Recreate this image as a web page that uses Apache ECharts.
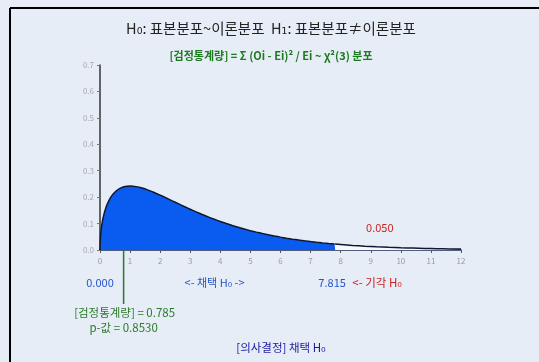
<!DOCTYPE html>
<html><head><meta charset="utf-8">
<script src="https://cdn.jsdelivr.net/npm/echarts@6/dist/echarts.min.js"></script>
<style>html,body{margin:0;padding:0;background:#e6edf7;}#c{width:539px;height:362px;}</style>
</head><body><div id="c"></div>
<script>
// chi-square(3) density
const acceptX = [0,0.02,0.05,0.1,0.2,0.3,0.4,0.5,0.6,0.7,0.8,0.9,1.0,1.2,1.4,1.6,1.8,2.0,2.2,2.4,2.6,2.8,3.0,3.2,3.4,3.6,3.8,4.0,4.2,4.4,4.6,4.8,5.0,5.2,5.4,5.6,5.8,6.0,6.2,6.4,6.6,6.8,7.0,7.2,7.4,7.6,7.8,7.815];
const acceptY = [0,0.0559,0.0870,0.1200,0.1614,0.1881,0.2066,0.2197,0.2289,0.2352,0.2392,0.2413,0.2420,0.2398,0.2344,0.2267,0.2176,0.2076,0.1970,0.1861,0.1753,0.1646,0.1542,0.1441,0.1344,0.1251,0.1163,0.1080,0.1001,0.0927,0.0858,0.0793,0.0732,0.0676,0.0623,0.0574,0.0529,0.0487,0.0448,0.0411,0.0378,0.0347,0.0319,0.0293,0.0268,0.0246,0.0226,0.0224];
const rejectX = [7.815,8.0,8.4,8.8,9.2,9.6,10.0,10.4,10.8,11.2,11.6,12.0];
const rejectY = [0.0224,0.0207,0.0173,0.0145,0.0122,0.0102,0.0085,0.0071,0.0059,0.0049,0.0041,0.0034];
const xTicks = [0,1,2,3,4,5,6,7,8,9,10,11,12];
const yTicks = [0,0.1,0.2,0.3,0.4,0.5,0.6,0.7];
const statValue = 0.785;
const critValue = 7.815;
const pValue = 0.8530;
const alpha = 0.050;

const FONT = '"Noto Sans CJK KR", "DejaVu Sans", sans-serif';
const chart = echarts.init(document.getElementById('c'));
const pair = (xs, ys) => xs.map((x, i) => [x, ys[i]]);

chart.setOption({
  animation: false,
  backgroundColor: '#e6edf7',
  grid: {left: 100, right: 78, top: 65, bottom: 112},
  xAxis: {
    type: 'value', min: xTicks[0], max: xTicks[xTicks.length-1], interval: 1,
    axisLine: {lineStyle: {color: '#1f2f5a', width: 1.5}},
    axisTick: {length: 3, lineStyle: {color: '#555'}},
    axisLabel: {color: '#9a9a9a', fontSize: 8, margin: 7, fontFamily: FONT},
    splitLine: {show: false}
  },
  yAxis: {
    type: 'value', min: yTicks[0], max: yTicks[yTicks.length-1], interval: 0.1,
    axisLine: {show: true, lineStyle: {color: '#333', width: 1.5}},
    axisTick: {show: true, length: 3, lineStyle: {color: '#777'}},
    axisLabel: {color: '#a8a8a8', fontSize: 8, margin: 6, fontFamily: FONT, formatter: v => v.toFixed(1)},
    splitLine: {show: false}
  },
  series: [
    {type: 'line', data: pair(acceptX, acceptY), showSymbol: false, smooth: 0.2,
     lineStyle: {color: '#101830', width: 1.5}, areaStyle: {color: '#0a5cf0', opacity: 1}, z: 3},
    {type: 'line', data: pair(rejectX, rejectY), showSymbol: false, smooth: 0.2,
     lineStyle: {color: '#101830', width: 1.5}, areaStyle: {color: '#f7f9fc', opacity: 1}, z: 3}
  ]
});

const px = v => chart.convertToPixel({xAxisIndex: 0}, v);
const py = v => chart.convertToPixel({yAxisIndex: 0}, v);
const y0 = py(0);
const txt = (x, y, s, color, size, bold) => ({
  type: 'text', x: x, y: y,
  style: {text: s, fill: color, fontSize: size, fontFamily: FONT, fontWeight: bold ? 'bold' : 'normal', align: 'center', verticalAlign: 'middle'}
});

chart.setOption({
  graphic: [
    {type: 'line', shape: {x1: 10, y1: 8, x2: 539, y2: 8}, style: {stroke: '#000', lineWidth: 2}},
    {type: 'line', shape: {x1: 10, y1: 8, x2: 10, y2: 362}, style: {stroke: '#000', lineWidth: 2}},
    txt(271, 28, 'H₀: 표본분포~이론분포  H₁: 표본분포≠이론분포', '#222', 14.5, false),
    txt(271, 56, '[검정통계량] = Σ (Oi - Ei)² / Ei ~ χ²(3) 분포', '#1e7a1e', 11, true),
    {type: 'line', shape: {x1: px(statValue), y1: y0, x2: px(statValue), y2: y0 + 54}, style: {stroke: '#2a7a2a', lineWidth: 1.5}, z: 10},
    txt(px(0), 283, '0.000', '#2255cc', 11, false),
    txt((px(0) + px(critValue)) / 2 - 3, 283, '<- 채택 H₀ ->', '#2255cc', 11, false),
    txt(px(critValue) - 3, 283, critValue.toFixed(3), '#2255cc', 11, false),
    txt(px(critValue) + 42, 283, '<- 기각 H₀', '#cc2222', 11.5, false),
    txt(px(9.3), 228, alpha.toFixed(3), '#cc2222', 11, false),
    txt(px(statValue) + 1, 313, '[검정통계량] = ' + statValue.toFixed(3), '#2a7a2a', 11.5, false),
    txt(px(statValue), 328, 'p-값 = ' + pValue.toFixed(4), '#2a7a2a', 11.5, false),
    txt(281, 348, '[의사결정] 채택 H₀', '#1a1aa0', 11.5, false)
  ]
});
</script>
</body></html>
